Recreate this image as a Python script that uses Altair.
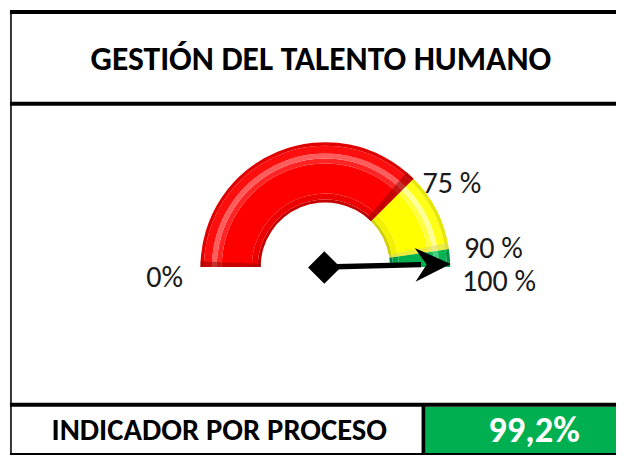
import math
import altair as alt
import pandas as pd

# ---------------- data ----------------
title_text = "GESTIÓN DEL TALENTO HUMANO"
footer_label = "INDICADOR POR PROCESO"
indicator_value = 99.2            # percent
indicator_text = "99,2%"

seg_names = ["Bajo", "Medio", "Alto"]
seg_start = [0, 75, 95.4]         # drawn extent of each coloured band
seg_end = [75, 95.4, 100]
seg_colors = ["#FF0000", "#FFFF00", "#00B050"]

tick_labels = ["0%", "75 %", "90 %", "100 %"]

# ---------------- layout (chart pixel coords = screen - 8) ----------------
W, H = 616, 451
CX, CY = 321.5, 259.5
R_IN, R_OUT = 65.5, 126.5
FONT = "Carlito, Calibri, Lato, sans-serif"

theta_scale = alt.Scale(domain=[0, 100], range=[-math.pi / 2, math.pi / 2])


def band(r1, r2, colors, starts=None, ends=None, opacity=1.0):
    d = pd.DataFrame({
        "start": seg_start if starts is None else starts,
        "end": seg_end if ends is None else ends,
        "fill": colors,
    })
    return alt.Chart(d).mark_arc(
        radius=r1, radius2=r2, opacity=opacity, stroke=None
    ).encode(
        x=alt.value(CX), y=alt.value(CY),
        theta=alt.Theta("start:Q", scale=theta_scale),
        theta2="end:Q",
        color=alt.Color("fill:N", scale=None),
    )


# concentric shading bands to imitate the bevelled tube
shade = [
    (R_IN, R_IN + 3, ["#C40000", "#D0D000", "#008040"]),
    (R_IN + 3, R_IN + 9, ["#EE0000", "#F2F200", "#00A048"]),
    (R_IN + 9, 105, seg_colors),
    (105, 110, ["#FF2424", "#FFFF40", "#14BA5C"]),
    (110, 115, ["#FF5C5C", "#FFFF99", "#48D080"]),
    (115, 123, ["#FF0E0E", "#FFFF18", "#08B454"]),
    (123, R_OUT, ["#E00000", "#E6E600", "#009444"]),
]
layers = [band(a, b, c) for a, b, c in shade]

# darker bevel edges at the segment ends
layers.append(band(R_IN, R_OUT, ["#900000", "#900000", "#D8D870"],
                   starts=[0, 72.6, 93.8], ends=[1.5, 75, 95.4], opacity=0.5))

# ---------------- needle ----------------
ang = math.pi * (1 - indicator_value / 100)
needle_len = 127
head_len = 36
hx = CX + (needle_len - head_len / 2) * math.cos(ang)
hy = CY - (needle_len - head_len / 2) * math.sin(ang)
sx = CX + (needle_len - head_len + 6) * math.cos(ang)
sy = CY - (needle_len - head_len + 6) * math.sin(ang)
rot = (360 - math.degrees(ang)) % 360

needle_df = pd.DataFrame({"value": [indicator_value]})
shaft = alt.Chart(needle_df).mark_rule(color="black", strokeWidth=5.5).encode(
    x=alt.value(CX), y=alt.value(CY), x2=alt.value(sx), y2=alt.value(sy))
head = alt.Chart(needle_df).mark_point(
    shape="M1,0L-1,-0.95L-0.35,0L-1,0.95Z", size=head_len ** 2,
    filled=True, color="black", opacity=1, angle=rot
).encode(x=alt.value(hx), y=alt.value(hy))
hub = alt.Chart(needle_df).mark_point(
    shape="M0,-1L1,0L0,1L-1,0Z", size=33 ** 2, filled=True, color="black", opacity=1
).encode(x=alt.value(CX - 1), y=alt.value(CY + 0.5))
layers += [shaft, head, hub]

# ---------------- tick labels ----------------
label_pos = [(140, 280), (420, 184), (462, 250), (460, 284)]
for txt, (lx, ly) in zip(tick_labels, label_pos):
    layers.append(alt.Chart(pd.DataFrame({"t": [txt]})).mark_text(
        font=FONT, fontSize=30.5, align="left", baseline="alphabetic", color="#1a1a1a"
    ).encode(x=alt.value(lx), y=alt.value(ly), text="t:N"))

# ---------------- table frame ----------------
frame_df = pd.DataFrame({"k": [0]})


def rule(x1, y1, x2, y2, w, color="black"):
    return alt.Chart(frame_df).mark_rule(color=color, strokeWidth=w).encode(
        x=alt.value(x1), y=alt.value(y1), x2=alt.value(x2), y2=alt.value(y2))


green_cell = alt.Chart(frame_df).mark_rect(color="#00B050").encode(
    x=alt.value(423), x2=alt.value(W), y=alt.value(401), y2=alt.value(448))
layers.insert(0, green_cell)

layers += [
    rule(3, 0, 3, 449, 2, "#333333"),
    rule(2, 1, W, 1, 4),
    rule(2, 94, W, 94, 4),
    rule(2, 399, W, 399, 4),
    rule(2, 449, W, 449, 2),
    rule(421, 399, 421, 449, 4),
]

layers.append(alt.Chart(pd.DataFrame({"t": [title_text]})).mark_text(
    font=FONT, fontSize=34, fontWeight="bold", align="center", baseline="alphabetic", color="black"
).encode(x=alt.value(317), y=alt.value(60), text="t:N"))
layers.append(alt.Chart(pd.DataFrame({"t": [footer_label]})).mark_text(
    font=FONT, fontSize=31, fontWeight="bold", align="center", baseline="alphabetic", color="black"
).encode(x=alt.value(214), y=alt.value(435), text="t:N"))
layers.append(alt.Chart(pd.DataFrame({"t": [indicator_text]})).mark_text(
    font=FONT, fontSize=37, fontWeight="bold", align="center", baseline="alphabetic", color="white"
).encode(x=alt.value(533), y=alt.value(437), text="t:N"))

chart = alt.layer(*layers).properties(
    width=W, height=H, autosize=alt.AutoSizeParams(type="none"), padding=0, background="white"
).configure_view(stroke=None)

chart.save("out.html", embed_options={"renderer": "svg", "actions": False})
